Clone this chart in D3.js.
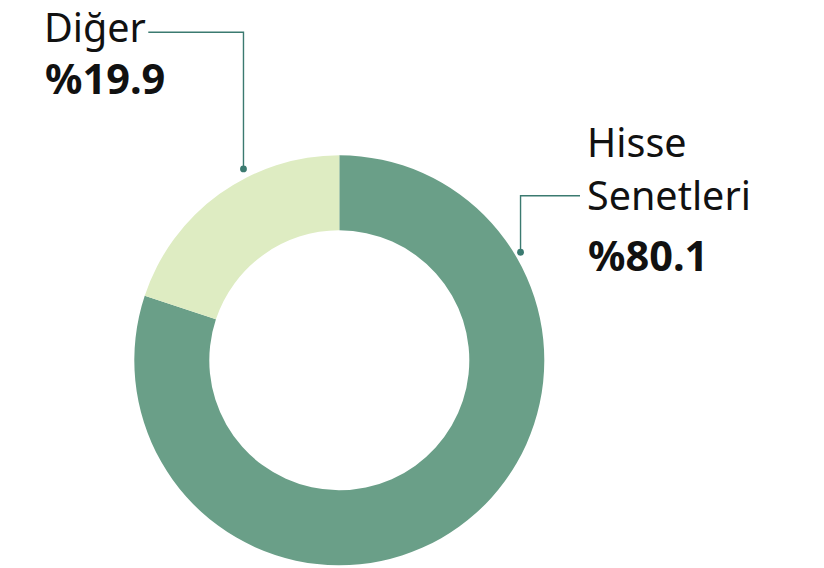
<!DOCTYPE html>
<html><head><meta charset="utf-8">
<script src="https://cdn.jsdelivr.net/npm/d3@7"></script>
<style>html,body{margin:0;padding:0;background:#fff;}svg{display:block;}</style>
</head><body>
<svg id="chart" width="824" height="568"></svg>
<script>
const categories = ["Hisse Senetleri", "Diğer"];
const values = [80.1, 19.9];
const labelLines = [["Hisse", "Senetleri"], ["Diğer"]];
const valueLabels = ["%80.1", "%19.9"];
const colors = ["#6a9f88", "#deecc2"];

const svg = d3.select("#chart");
const cx = 339.3, cy = 360.3, R = 205, r = 130;
const g = svg.append("g").attr("transform", `translate(${cx},${cy})`);

const pie = d3.pie().sort(null).value(d => d.v);
const arcs = pie(categories.map((c, i) => ({c, v: values[i], i})));
const arc = d3.arc().innerRadius(r).outerRadius(R);
g.selectAll("path").data(arcs).join("path")
  .attr("d", arc).attr("fill", (d, i) => colors[i]);

// leader layout (angle in degrees clockwise from top, where the dot sits)
const leaders = [
  {ang: 59.2, rad: 211, elbowY: 195.7, endX: 580, textX: 587, textY: 156.7, lineGap: 53.5, valGap: 61},
  {ang: 333.4, rad: 214, elbowY: 32.3, endX: 148.3, textX: 44, textY: 41.7, lineGap: 53, valGap: 52.3}
];
const lc = "#3b7a70";
leaders.forEach((L, i) => {
  const a = L.ang * Math.PI / 180;
  const px = cx + L.rad * Math.sin(a), py = cy - L.rad * Math.cos(a);
  svg.append("path")
    .attr("d", `M${px},${py}V${L.elbowY}H${L.endX}`)
    .attr("fill", "none").attr("stroke", lc).attr("stroke-width", 1.4);
  svg.append("circle").attr("cx", px).attr("cy", py).attr("r", 3.4).attr("fill", lc);
  const lines = labelLines[i];
  lines.forEach((t, j) => {
    svg.append("text").attr("x", L.textX).attr("y", L.textY + j * L.lineGap)
      .attr("font-family", "'Noto Sans', sans-serif").attr("font-size", 39.5)
      .attr("fill", "#111").text(t);
  });
  svg.append("text").attr("x", L.textX + 1)
    .attr("y", L.textY + (lines.length - 1) * L.lineGap + L.valGap)
    .attr("font-family", "'Noto Sans', sans-serif").attr("font-size", 41.5)
    .attr("font-weight", "bold").attr("fill", "#111").text(valueLabels[i]);
});
</script>
</body></html>
